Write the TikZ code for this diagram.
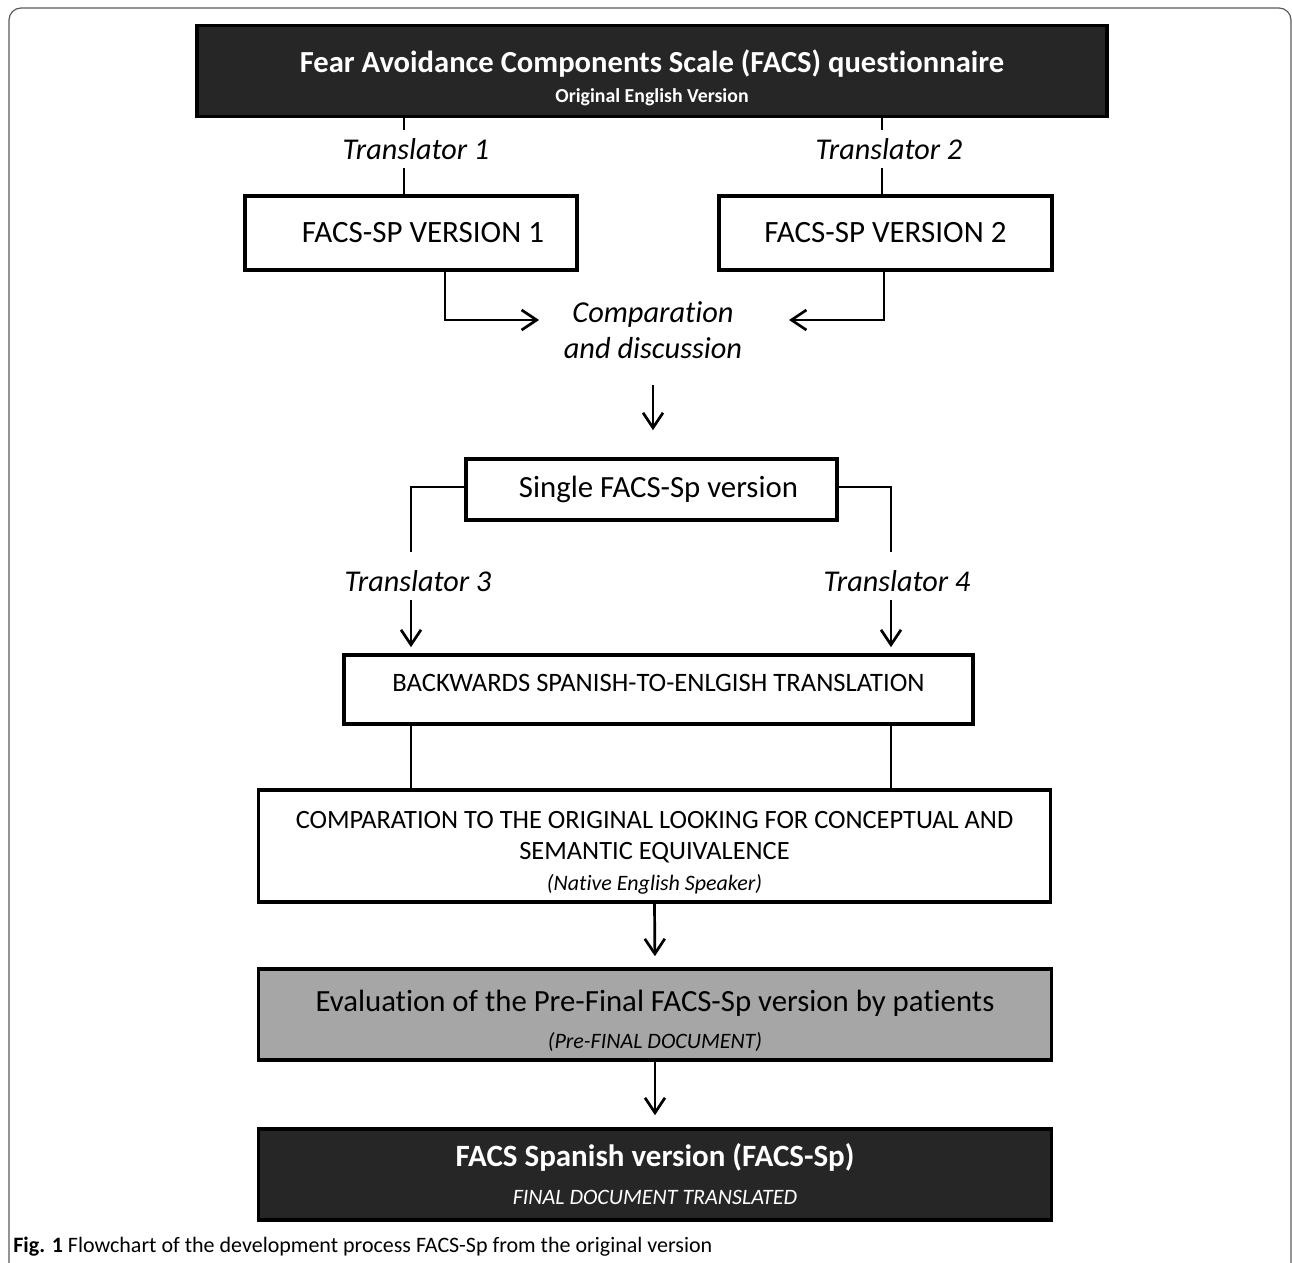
\documentclass[tikz,border=0pt]{standalone}
\usepackage{fontspec}
\setmainfont{Carlito}[Ligatures=NoCommon]
\usetikzlibrary{arrows.meta}
\definecolor{boxdark}{HTML}{262626}
\definecolor{boxgrey}{HTML}{A6A6A6}
\definecolor{framegrey}{HTML}{5A5A5A}
\tikzstyle{box}=[draw=black, line width=1.8pt, fill=white, inner sep=0pt, align=center]
\tikzstyle{darkbox}=[box, fill=boxdark, text=white]
\tikzstyle{greybox}=[box, fill=boxgrey]
\tikzstyle{transl}=[inner sep=4pt, font=\fontsize{15.1}{18}\selectfont\itshape]
\tikzstyle{link}=[line width=1.35pt]
\tikzstyle{flow}=[link, -{Straight Barb[length=7.5pt, width=10pt, line width=1.35pt]}]

\begin{document}
\begin{tikzpicture}[x=0.5pt, y=-0.5pt]
\useasboundingbox (0,0) rectangle (1292,1263);
% Frame
    \draw[framegrey, line width=0.6pt, rounded corners=6pt] (9,1263) -- (9,8) -- (1291,8) -- (1291,1263);
% Boxes
    \node[darkbox, minimum width=455pt, minimum height=45.5pt, font=\fontsize{15.3}{15}\selectfont\bfseries] (top) at (652,71)
        {\rule{0pt}{18.5pt}Fear Avoidance Components Scale (FACS) questionnaire\\{\fontsize{9.9}{15}\selectfont Original English Version}};
    \node[box, minimum width=166pt, minimum height=37pt, font=\fontsize{15.5}{18}\selectfont] (v1) at (411,233) {\hspace{12pt}FACS-SP VERSION 1};
    \node[box, minimum width=166.5pt, minimum height=37pt, font=\fontsize{15.5}{18}\selectfont] (v2) at (885.5,233) {FACS-SP VERSION 2};
    \node[inner sep=0pt, align=center, font=\fontsize{15.2}{18}\selectfont\itshape] (comp) at (653,330) {Comparation\\and discussion};
    \node[box, minimum width=185.5pt, minimum height=30.5pt, font=\fontsize{15.4}{18}\selectfont] (single) at (651.5,489.5) {\hspace{7pt}Single FACS-Sp version};
    \node[box, minimum width=314.5pt, minimum height=34.5pt, text depth=7pt, font=\fontsize{13.3}{16}\selectfont] (back) at (658.5,689.5) {BACKWARDS SPANISH-TO-ENLGISH TRANSLATION};
    \node[box, minimum width=396pt, minimum height=56pt, font=\fontsize{13.2}{15.5}\selectfont] (cmp) at (654.5,846)
        {\rule{0pt}{15pt}COMPARATION TO THE ORIGINAL LOOKING FOR CONCEPTUAL AND\\SEMANTIC EQUIVALENCE\\{\fontsize{11}{15.5}\selectfont\itshape (Native English Speaker)}};
    \node[greybox, minimum width=396.5pt, minimum height=45.5pt, font=\fontsize{15.4}{18.5}\selectfont] (grey) at (655,1014.5)
        {\rule{0pt}{17pt}Evaluation of the Pre-Final FACS-Sp version by patients\\{\fontsize{11}{18.5}\selectfont\itshape (Pre-FINAL DOCUMENT)}};
    \node[darkbox, minimum width=396.5pt, minimum height=45.5pt, font=\fontsize{15.5}{19}\selectfont] (final) at (655,1174.5)
        {\textbf{FACS Spanish version (FACS-Sp)}\\{\fontsize{11}{19}\selectfont\itshape FINAL DOCUMENT TRANSLATED}};
% Translators
    \node[transl] (t1) at (416,149) {Translator 1};
    \node[transl] (t2) at (889,149) {Translator 2};
    \node[transl] (t3) at (418,581) {Translator 3};
    \node[transl] (t4) at (897,581) {Translator 4};
% Turning points
    \coordinate (l1) at (404,0);
    \coordinate (l2) at (882,0);
    \coordinate (a1) at (445,320);
    \coordinate (a2) at (884,320);
    \coordinate (in1) at (539,320);
    \coordinate (in2) at (789,320);
    \coordinate (b3) at (411,552);
    \coordinate (b4) at (891,552);
    \coordinate (s0) at (0,487);
% Connectors
    \draw[link] (top.south -| l1) -- (t1.north -| l1);
    \draw[link] (t1.south -| l1) -- (v1.north -| l1);
    \draw[link] (top.south -| l2) -- (t2.north -| l2);
    \draw[link] (t2.south -| l2) -- (v2.north -| l2);
    \draw[flow] (v1.south -| a1) -- (a1) -- (in1);
    \draw[flow] (v2.south -| a2) -- (a2) -- (in2);
    \draw[flow, shorten <=13pt, shorten >=13.5pt] (comp.south) -- (comp.south |- single.north);
    \draw[link] (single.west |- s0) -| (b3);
    \draw[link] (single.east |- s0) -| (b4);
    \draw[flow, shorten >=3pt] (t3.south -| b3) -- (back.north -| b3);
    \draw[flow, shorten >=3pt] (t4.south -| b4) -- (back.north -| b4);
    \draw[link] (back.south -| b3) -- (cmp.north -| b3);
    \draw[link] (back.south -| b4) -- (cmp.north -| b4);
    \draw[flow, shorten >=5.5pt] (cmp.south) -- (grey.north);
    \draw[flow, shorten >=6pt] (grey.south) -- (final.north);
% Caption
    \node[anchor=base west, inner sep=0pt, font=\fontsize{11}{13}\selectfont] (cap) at (13,1252)
        {\textbf{Fig. 1} Flowchart of the development process FACS-Sp from the original version};
\end{tikzpicture}
\end{document}
